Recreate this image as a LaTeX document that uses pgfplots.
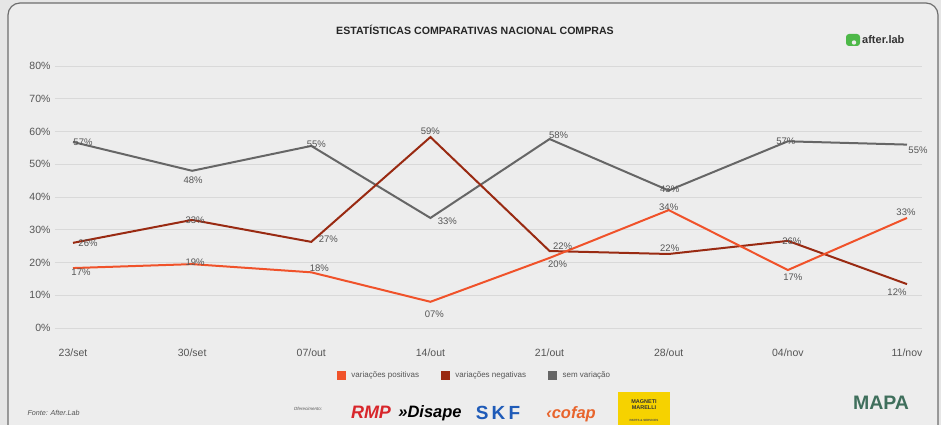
\documentclass[border=0pt]{standalone}
\usepackage{fontspec}
\setmainfont{Liberation Sans}
\usepackage{pgfplots}
\usepackage{pgfplotstable}
\pgfplotsset{compat=1.18}
\definecolor{bgc}{HTML}{EDEDED}
\definecolor{outbg}{HTML}{E6E6E6}
\definecolor{framec}{HTML}{6E6E6E}
\definecolor{gridc}{HTML}{D9D9D9}
\definecolor{labc}{HTML}{555555}
\definecolor{orangec}{HTML}{F0522A}
\definecolor{darkredc}{HTML}{992A12}
\definecolor{grayc}{HTML}{666666}
\definecolor{aftergreen}{HTML}{4DB848}
\definecolor{rmpred}{HTML}{D8262B}
\definecolor{skfblue}{HTML}{1F5BB8}
\definecolor{cofapor}{HTML}{E8642C}
\definecolor{magyel}{HTML}{F6D200}
\definecolor{mapag}{HTML}{3F6F5C}

\pgfplotstableread{
x y lab dx dy
0 18.3 17 8 -4
1 19.5 19 3 2
2 17.0 18 8 4
3 8.0 07 4 -12
4 21.4 20 8 -6
5 36.0 34 0 3
6 17.7 17 5 -7
7 33.6 33 -1 6
}\pos
\pgfplotstableread{
x y lab dx dy
0 26.0 26 15 0
1 33.0 33 3 0
2 26.3 27 17 3
3 58.3 59 0 6
4 23.5 22 13 5
5 22.6 22 1 6
6 26.6 26 4 0
7 13.4 12 -10 -8
}\neg
\pgfplotstableread{
x y lab dx dy
0 56.8 57 10 0
1 48.0 48 1 -9
2 55.6 55 5 2
3 33.6 33 17 -3
4 57.7 58 9 4
5 42.0 43 1 1
6 57.0 57 -2 0
7 56.0 55 11 -6
}\semv

\pgfplotsset{
  lbl/.style={
    line width=2pt,
    nodes near coords={\pgfplotspointmeta\%},
    point meta=explicit symbolic,
    visualization depends on={\thisrow{dx}\as\dx},
    visualization depends on={\thisrow{dy}\as\dy},
    nodes near coords style={anchor=center, inner sep=0pt, xshift=\dx pt, yshift=\dy pt, text=labc, font=\fontsize{9.5}{10}\selectfont},
  }
}

\begin{document}
\begin{tikzpicture}
\useasboundingbox (0pt,0pt) rectangle (941pt,425pt);
\fill[outbg] (0pt,0pt) rectangle (941pt,425pt);
\draw[framec, fill=bgc, rounded corners=12pt, line width=1.2pt] (8pt,-30pt) rectangle (938pt,422pt);

\node[font=\bfseries\fontsize{10.6}{11}\selectfont, text=black!85] at (475pt,395pt) {ESTATÍSTICAS COMPARATIVAS NACIONAL COMPRAS};

% after.lab logo
\fill[aftergreen, rounded corners=3pt] (846pt,379pt) rectangle (860pt,391pt);
\fill[bgc] (854pt,382.5pt) circle (2.2pt);
\node[anchor=west, inner sep=0pt, font=\bfseries\fontsize{11}{12}\selectfont, text=black!80] at (862pt,385pt) {after.lab};

\begin{axis}[
  at={(55pt,97pt)}, anchor=south west,
  scale only axis, width=867pt, height=262pt,
  xmin=-0.151, xmax=7.126, ymin=0, ymax=80,
  clip=false,
  axis line style={draw=none},
  major tick length=0pt,
  ymajorgrids, grid style={gridc, line width=0.9pt},
  ytick={0,10,20,30,40,50,60,70,80},
  yticklabels={0\%,10\%,20\%,30\%,40\%,50\%,60\%,70\%,80\%},
  xtick={0,1,2,3,4,5,6,7},
  xticklabels={23/set,30/set,07/out,14/out,21/out,28/out,04/nov,11/nov},
  yticklabel style={font=\fontsize{10.5}{11}\selectfont, text=labc, xshift=-1pt},
  xticklabel style={font=\fontsize{10.5}{11}\selectfont, text=labc, yshift=-17pt},
  legend columns=3,
  legend style={at={(0.484,-0.179)}, anchor=center, draw=none, fill=none,
    font=\fontsize{8}{9}\selectfont, text=labc,
    /tikz/every even column/.append style={column sep=20pt}},
]
\addlegendimage{legend image code/.code={\fill[orangec] (0pt,-4pt) rectangle (8pt,4pt); \path (12pt,0pt);}}
\addlegendimage{legend image code/.code={\fill[darkredc] (0pt,-4pt) rectangle (8pt,4pt); \path (12pt,0pt);}}
\addlegendimage{legend image code/.code={\fill[grayc] (0pt,-4pt) rectangle (8pt,4pt); \path (12pt,0pt);}}
\addplot[grayc, lbl, forget plot] table[x=x, y=y, meta=lab] {\semv};
\addplot[darkredc, lbl, forget plot] table[x=x, y=y, meta=lab] {\neg};
\addplot[orangec, lbl, forget plot] table[x=x, y=y, meta=lab] {\pos};
\legend{variações positivas, variações negativas, sem variação}
\end{axis}

% footer
\node[anchor=west, font=\itshape\fontsize{7.2}{8}\selectfont, text=labc] at (24pt,12pt) {Fonte: After.Lab};
\node[font=\itshape\fontsize{4.5}{5}\selectfont, text=labc] at (308pt,16pt) {Oferecimento:};
\node[font=\bfseries\itshape\fontsize{18}{19}\selectfont, text=rmpred] at (371pt,13pt) {RMP};
\node[font=\bfseries\itshape\fontsize{16.5}{17}\selectfont, text=black] at (430pt,12pt) {»Disape};
\node[font=\bfseries\fontsize{19}{20}\selectfont, text=skfblue] at (498pt,12pt) {S\,K\,F};
\node[font=\bfseries\itshape\fontsize{16.5}{17}\selectfont, text=cofapor] at (571pt,11pt) {‹cofap};
\fill[magyel] (618pt,0pt) rectangle (670pt,33pt);
\node[font=\bfseries\fontsize{5.5}{6}\selectfont, text=black!80, align=center] at (644pt,20pt) {MAGNETI\\MARELLI};
\node[font=\bfseries\fontsize{3}{3.5}\selectfont, text=black!70] at (644pt,5pt) {PARTS \& SERVICES};
\node[font=\bfseries\fontsize{19.5}{20}\selectfont, text=mapag] at (881pt,22pt) {MAPA};
\end{tikzpicture}
\end{document}
